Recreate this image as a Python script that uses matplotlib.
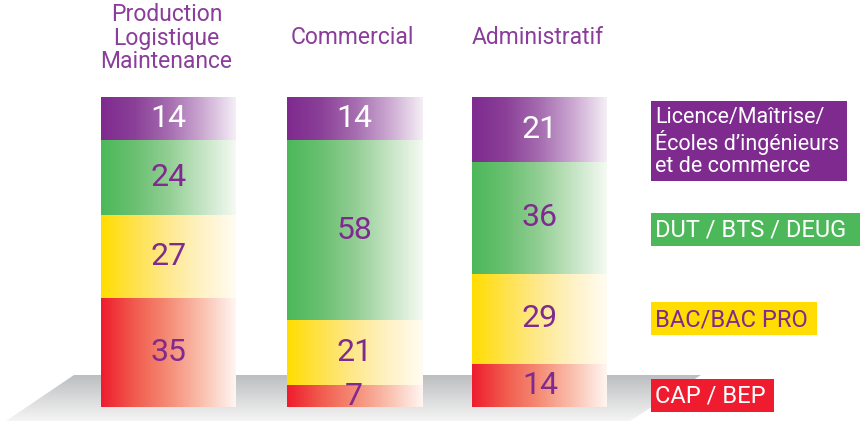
import numpy as np
import matplotlib
matplotlib.use("Agg")
import matplotlib.pyplot as plt
from matplotlib.patches import Polygon, Rectangle
from matplotlib.colors import LinearSegmentedColormap
from matplotlib import font_manager

# ---- data ----
categories = ["Production\nLogistique\nMaintenance", "Commercial", "Administratif"]
levels = ["CAP / BEP", "BAC/BAC PRO", "DUT / BTS / DEUG",
          "Licence/Maîtrise/\nÉcoles d’ingénieurs\net de commerce"]
cap_bep = [35, 7, 14]
bac = [27, 21, 29]
dut = [24, 58, 36]
licence = [14, 14, 21]
series = [cap_bep, bac, dut, licence]

colors = ["#EE1C2E", "#FFDD00", "#4CB85A", "#7E2A8E"]
gradient_stops = [
    ["#EE1C2E", "#F15C4E", "#F58C76", "#FAC0AE", "#FFF6F2"],
    ["#FFDD00", "#FFE24C", "#FEE98F", "#FFF2C6", "#FFFCF2"],
    ["#4CB85A", "#6AC071", "#92CE94", "#C4E4C3", "#F5FAF3"],
    ["#7E2A8E", "#8B4098", "#A56CAF", "#CBA8D1", "#F5EEF6"],
]
label_colors = ["#7E2A8E", "#7E2A8E", "#7E2A8E", "white"]
legend_text_colors = ["white", "#7E2A8E", "white", "white"]
title_color = "#8A3D9A"

names = {f.name for f in font_manager.fontManager.ttflist}
FONT = [f for f in ["Liberation Sans Narrow", "Roboto", "DejaVu Sans"] if f in names]
plt.rcParams['font.family'] = FONT

W, H = 863, 422
fig = plt.figure(figsize=(W / 100, H / 100), dpi=100)

# background axes in pixel coordinates (decor: floor, legend, titles)
bg = fig.add_axes([0, 0, 1, 1])
bg.set_xlim(0, W)
bg.set_ylim(H, 0)
bg.axis("off")

# floor with vertical gray gradient
floor = Polygon([(74, 375), (701, 375), (630, 421), (6, 421)], closed=True,
                facecolor="none", edgecolor="none")
bg.add_patch(floor)
grad = np.linspace(0, 1, 64)[:, None]
c_top = np.array([0.74, 0.745, 0.755])
c_bot = np.array([0.96, 0.96, 0.96])
img = c_top[None, None, :] * (1 - grad[:, :, None]) + c_bot[None, None, :] * grad[:, :, None]
im = bg.imshow(img, extent=(0, W, 421, 375), aspect="auto", zorder=0)
im.set_clip_path(floor)

# ---- main data axes ----
x0_px, step_px, bar_px = 168.5, 185.7, 135
bot_px, top_px = 407, 97
ax = fig.add_axes([0, (H - bot_px) / H, 1, (bot_px - top_px) / H])
ax.axis("off")
ax.patch.set_alpha(0)

width = bar_px / step_px
xs = np.arange(len(categories))
ramp = np.linspace(0, 1, 256)[None, :]

bottoms = np.zeros(len(categories))
for k, vals in enumerate(series):
    cmap = LinearSegmentedColormap.from_list(f"g{k}", gradient_stops[k])
    for i, v in enumerate(vals):
        b = bottoms[i]
        ax.imshow(ramp, cmap=cmap, vmin=0, vmax=1,
                  extent=(xs[i] - width / 2, xs[i] + width / 2, b, b + v),
                  aspect="auto", zorder=2, interpolation="bilinear")
        ax.text(xs[i], b + v / 2, str(v), ha="center", va="center",
                fontsize=23, color=label_colors[k], zorder=3, clip_on=False)
    bottoms += np.array(vals)
ax.set_xlim(-x0_px / step_px, (W - x0_px) / step_px)
ax.set_ylim(0, 100)

# category titles (pixel space above the bars)
title_y = [38, 38, 38]
for i, c in enumerate(categories):
    bg.text(x0_px + step_px * xs[i] - 2, title_y[i], c, ha="center", va="center",
            fontsize=16.5, color=title_color, linespacing=1.02)

# legend boxes (pixel coords: x0, y0, x1, y1)
boxes = [(651, 379, 774, 412), (651, 302, 817, 335), (651, 213, 860, 246),
         (651, 101, 847, 181)]
legend_sizes = [17, 17, 17, 15.5]
for k, (bx0, by0, bx1, by1) in enumerate(boxes):
    bg.add_patch(Rectangle((bx0, by0), bx1 - bx0, by1 - by0,
                           facecolor=colors[k], edgecolor="none", zorder=1))
    bg.text(bx0 + 4, (by0 + by1) / 2 + 1, levels[k], ha="left", va="center",
            fontsize=legend_sizes[k], color=legend_text_colors[k],
            linespacing=1.1, zorder=2)

fig.savefig("out.png", dpi=100)
